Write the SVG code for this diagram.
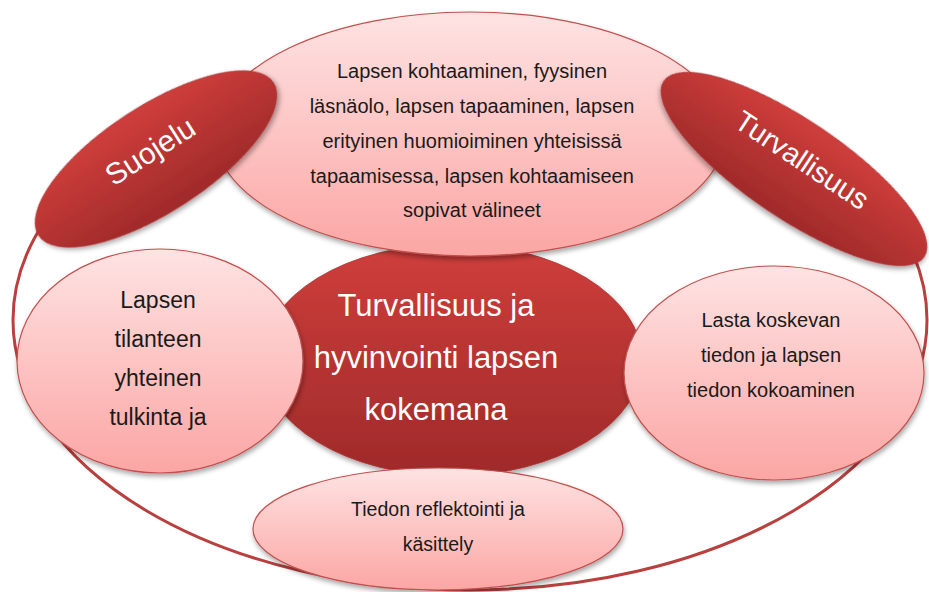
<svg xmlns="http://www.w3.org/2000/svg" width="929" height="592" viewBox="0 0 929 592">
<defs>
<linearGradient id="light" x1="0" y1="0" x2="0" y2="1">
<stop offset="0" stop-color="#fee3e3"/>
<stop offset="1" stop-color="#fba6a4"/>
</linearGradient>
<linearGradient id="dark" x1="0" y1="0" x2="0" y2="1">
<stop offset="0" stop-color="#cf3e3b"/>
<stop offset="1" stop-color="#9f2a2a"/>
</linearGradient>
<filter id="sh" x="-10%" y="-10%" width="120%" height="130%">
<feDropShadow dx="1" dy="3" stdDeviation="2.5" flood-color="#000" flood-opacity="0.35"/>
</filter>
<style>
.lt{fill:url(#light);stroke:#c0504d;stroke-width:1.2;filter:url(#sh)}
.dk{fill:url(#dark);stroke:#a83232;stroke-width:0.8;filter:url(#sh)}
.bt{font-family:"Liberation Sans",Arial,sans-serif;fill:#1a1a1a;text-anchor:middle}
.wt{font-family:"Liberation Sans",Arial,sans-serif;fill:#ffffff;text-anchor:middle}
</style>
</defs>
<rect width="929" height="592" fill="#ffffff"/>
<g id="connectors">
<ellipse id="outer" cx="470" cy="320" rx="457" ry="270" fill="none" stroke="#b8403e" stroke-width="3"/>
</g>
<g id="center">
<ellipse class="dk" cx="452" cy="360" rx="190" ry="116"/>
<text class="wt" font-size="31" x="436" y="316">Turvallisuus ja</text>
<text class="wt" font-size="31" x="436" y="368">hyvinvointi lapsen</text>
<text class="wt" font-size="31" x="436" y="420">kokemana</text>
</g>
<g id="top">
<ellipse class="lt" cx="470" cy="134" rx="255" ry="122"/>
<text class="bt" font-size="20" x="472" y="78">Lapsen kohtaaminen, fyysinen</text>
<text class="bt" font-size="20" x="472" y="113">läsnäolo, lapsen tapaaminen, lapsen</text>
<text class="bt" font-size="20" x="472" y="148">erityinen huomioiminen yhteisissä</text>
<text class="bt" font-size="20" x="472" y="183">tapaamisessa, lapsen kohtaamiseen</text>
<text class="bt" font-size="20" x="472" y="217">sopivat välineet</text>
</g>
<g id="suojelu">
<ellipse class="dk" cx="156" cy="159" rx="140" ry="53" transform="rotate(-33 156 159)"/>
<text class="wt" font-size="30" x="150" y="151" dominant-baseline="central" transform="rotate(-32.5 150 151)">Suojelu</text>
</g>
<g id="turvallisuus">
<ellipse class="dk" cx="794" cy="169" rx="157" ry="49" transform="rotate(34 794 169)"/>
<text class="wt" font-size="29" x="802" y="160" dominant-baseline="central" transform="rotate(33.5 802 160)">Turvallisuus</text>
</g>
<g id="left">
<ellipse class="lt" cx="160" cy="361" rx="143" ry="112"/>
<text class="bt" font-size="23" x="158" y="308">Lapsen</text>
<text class="bt" font-size="23" x="158" y="347">tilanteen</text>
<text class="bt" font-size="23" x="158" y="386">yhteinen</text>
<text class="bt" font-size="23" x="158" y="425">tulkinta ja</text>
</g>
<g id="right">
<ellipse class="lt" cx="774" cy="373" rx="150" ry="107"/>
<text class="bt" font-size="20" x="771" y="327">Lasta koskevan</text>
<text class="bt" font-size="20" x="771" y="362">tiedon ja lapsen</text>
<text class="bt" font-size="20" x="771" y="397">tiedon kokoaminen</text>
</g>
<g id="bottom">
<ellipse class="lt" cx="438" cy="529" rx="185" ry="61"/>
<text class="bt" font-size="19.5" x="438" y="516">Tiedon reflektointi ja</text>
<text class="bt" font-size="19.5" x="438" y="551">käsittely</text>
</g>
</svg>
